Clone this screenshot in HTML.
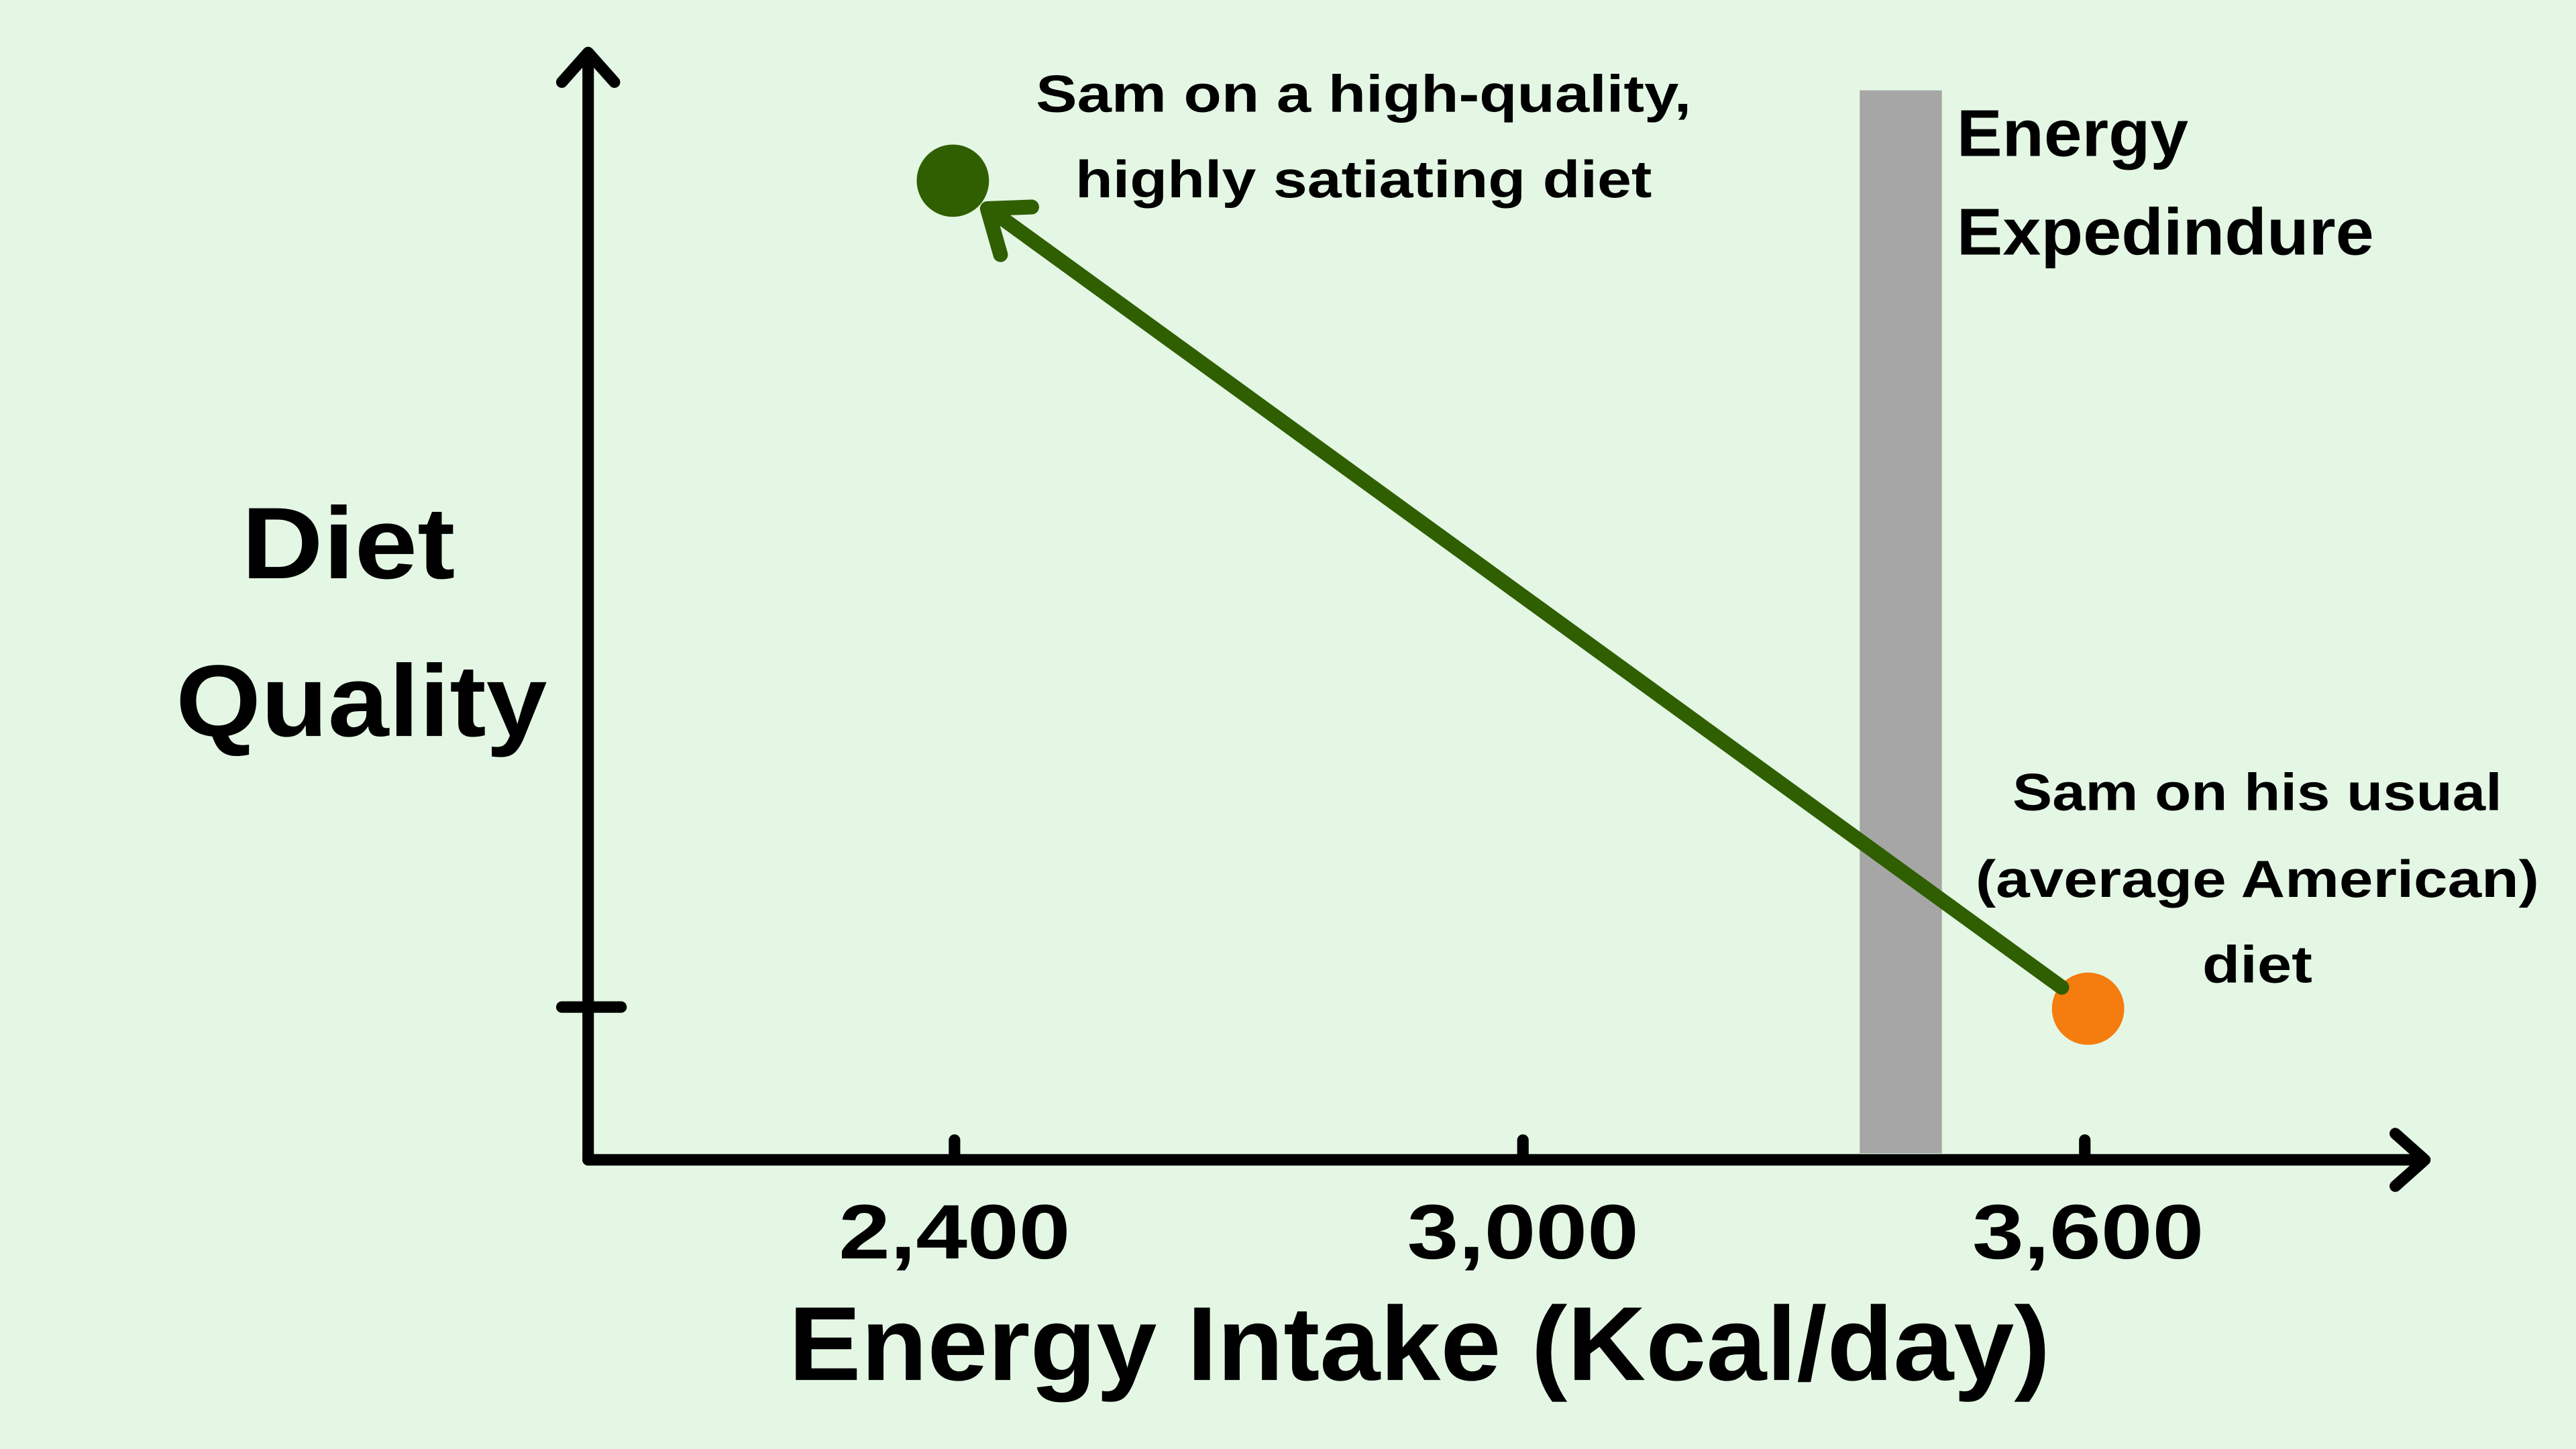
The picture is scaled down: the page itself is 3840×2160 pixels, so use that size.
<!DOCTYPE html>
<html><head><meta charset="utf-8"><style>
html,body{margin:0;padding:0;background:#e4f7e4;}
svg{display:block;}
text{font-family:"Liberation Sans",sans-serif;font-weight:bold;fill:#000;}
</style></head><body>
<svg width="3840" height="2160" viewBox="0 0 1568 882" xmlns="http://www.w3.org/2000/svg">
<rect width="1568" height="882" fill="#e4f7e4"/>
<rect x="1132" y="55" width="50" height="647" fill="#a6a6a6"/>
<g stroke="#000" stroke-width="7" stroke-linecap="round" stroke-linejoin="round" fill="none">
<line x1="358" y1="34" x2="358" y2="706"/>
<polyline points="342,50 358,32 374,50"/>
<line x1="358" y1="706" x2="1474" y2="706"/>
<polyline points="1458,690 1476,706 1458,722"/>
<line x1="342" y1="613" x2="378" y2="613"/>
<line x1="581" y1="694" x2="581" y2="706"/>
<line x1="927" y1="694" x2="927" y2="706"/>
<line x1="1269" y1="694" x2="1269" y2="706"/>
</g>
<circle cx="1271" cy="614" r="22" fill="#f57c0e"/>
<circle cx="580" cy="110" r="22" fill="#2f5f00"/>
<g stroke="#2f5f00" stroke-width="9" stroke-linecap="round" stroke-linejoin="round" fill="none">
<line x1="1255" y1="601" x2="606" y2="130"/>
<polyline points="628,126 601,127 609,155"/>
</g>
<g text-anchor="middle" lengthAdjust="spacingAndGlyphs">
<text x="581" y="766" font-size="47" textLength="141" lengthAdjust="spacingAndGlyphs">2,400</text>
<text x="927" y="766" font-size="47" textLength="141" lengthAdjust="spacingAndGlyphs">3,000</text>
<text x="1271" y="766" font-size="47" textLength="141" lengthAdjust="spacingAndGlyphs">3,600</text>
<text x="864" y="840" font-size="64" textLength="768" lengthAdjust="spacingAndGlyphs">Energy Intake (Kcal/day)</text>
<text x="212" y="352" font-size="62" textLength="130" lengthAdjust="spacingAndGlyphs">Diet</text>
<text x="220" y="448" font-size="62" textLength="226" lengthAdjust="spacingAndGlyphs">Quality</text>
<text x="830" y="68" font-size="32" textLength="399" lengthAdjust="spacingAndGlyphs">Sam on a high-quality,</text>
<text x="830" y="120" font-size="32" textLength="351" lengthAdjust="spacingAndGlyphs">highly satiating diet</text>
<text x="1374" y="493" font-size="32" textLength="298" lengthAdjust="spacingAndGlyphs">Sam on his usual</text>
<text x="1374" y="546" font-size="32" textLength="343" lengthAdjust="spacingAndGlyphs">(average American)</text>
<text x="1374" y="598" font-size="32" textLength="67" lengthAdjust="spacingAndGlyphs">diet</text>
</g>
<text x="1191" y="95" font-size="40" textLength="141" lengthAdjust="spacingAndGlyphs">Energy</text>
<text x="1191" y="155" font-size="40" textLength="254" lengthAdjust="spacingAndGlyphs">Expedindure</text>
</svg>
</body></html>
